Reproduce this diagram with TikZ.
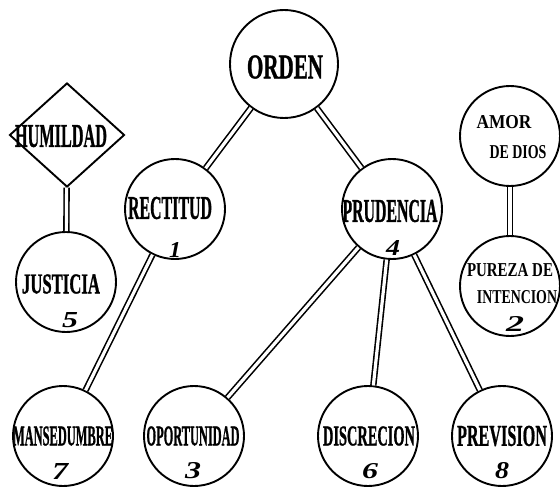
\documentclass[tikz,border=0pt]{standalone}
\usepackage{fontspec}
\usepackage{graphicx}
\setmainfont{Liberation Serif}
\newfontfamily\heavy[FakeBold=1.2]{Liberation Serif Bold}
\usetikzlibrary{shapes.geometric}
\newcommand{\fitt}[3]{\resizebox{#1pt}{#2pt}{#3}}
\begin{document}
\begin{tikzpicture}[x=1pt,y=-1pt,
  circ/.style={circle, draw, line width=1.9pt, inner sep=0pt, minimum size=#1},
  circ/.default=100pt,
  dia/.style={diamond, draw, line width=1.9pt, inner sep=0pt, minimum width=115pt, minimum height=104pt},
  dl/.style={double, double distance=3.2pt, line width=1.6pt},
  lbl/.style={inner sep=0pt, font=\heavy},
  lbs/.style={inner sep=0pt, font=\bfseries},
  num/.style={inner sep=0pt, font=\bfseries\itshape}]
\useasboundingbox (0,0) rectangle (560,487);
% shapes
\node[circ=108pt] (orden) at (284,64) {};
\node[circ] (rect) at (175,209) {};
\node[circ] (prud) at (392,209) {};
\node[dia] (hum) at (67,135) {};
\node[circ] (just) at (66,282) {};
\node[circ] (amor) at (510,136) {};
\node[circ] (pur) at (510,286) {};
\node[circ] (mans) at (63,436) {};
\node[circ] (opor) at (194,436) {};
\node[circ] (disc) at (368,436) {};
\node[circ] (prev) at (502,436) {};
% connectors
\draw[dl] (orden) -- (rect);
\draw[dl] (orden) -- (prud);
\draw[dl] (hum) -- (just);
\draw[dl] (amor) -- (pur);
\draw[dl] (rect) -- (mans);
\draw[dl] (prud) -- (opor);
\draw[dl] (prud) -- (disc);
\draw[dl] (prud) -- (prev);
% texts
\node[lbl] (tord) at (285,67) {\fitt{76}{23}{ORDEN}};
\node[lbl] (trect) at (170,208) {\fitt{84}{22}{RECTITUD}};
\node[lbl] (tprud) at (390,211) {\fitt{95}{22}{PRUDENCIA}};
\node[lbl] (thum) at (61,136) {\fitt{92}{22}{HUMILDAD}};
\node[lbl] (tjust) at (61,284) {\fitt{78}{19}{JUSTICIA}};
\node[lbl] (tmans) at (63,436) {\fitt{100}{19}{MANSEDUMBRE}};
\node[lbl] (topor) at (193,436) {\fitt{93}{19}{OPORTUNIDAD}};
\node[lbl] (tdisc) at (369,436) {\fitt{92}{19}{DISCRECION}};
\node[lbl] (tprev) at (502,436) {\fitt{90}{20}{PREVISION}};
\node[lbs] (tamor) at (504,122) {\fitt{55}{13}{AMOR}};
\node[lbs] (tdios) at (518,152) {\fitt{57}{13}{DE DIOS}};
\node[lbs] (tpur) at (510,270) {\fitt{86}{13}{PUREZA DE}};
\node[lbs] (tint) at (517,297) {\fitt{80}{13}{INTENCION}};
% numbers
\node[num] (n1) at (175,250) {\fitt{12}{15}{1}};
\node[num] (n4) at (393,248) {\fitt{14}{15}{4}};
\node[num] (n5) at (70,320) {\fitt{16}{15}{5}};
\node[num] (n2) at (515,324) {\fitt{18}{15}{2}};
\node[num] (n7) at (60,471) {\fitt{16}{16}{7}};
\node[num] (n3) at (193,471) {\fitt{16}{16}{3}};
\node[num] (n6) at (370,471) {\fitt{16}{15}{6}};
\node[num] (n8) at (502,471) {\fitt{14}{16}{8}};
\end{tikzpicture}
\end{document}
